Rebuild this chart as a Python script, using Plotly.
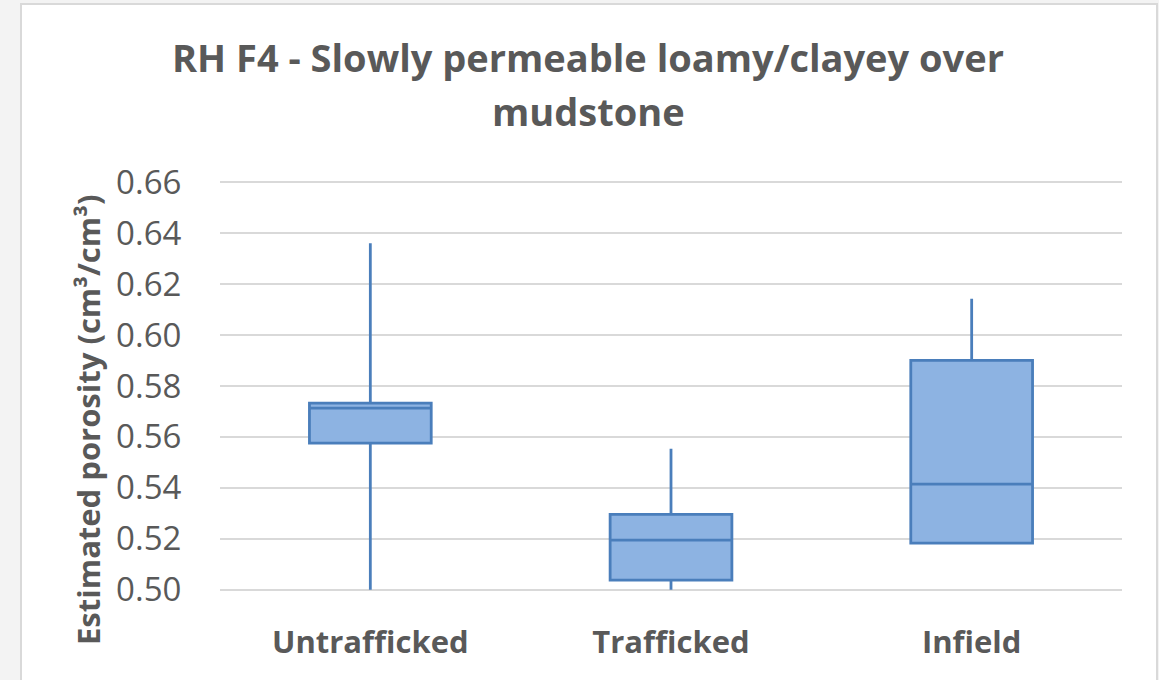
import plotly.graph_objects as go

# box statistics (cm3/cm3)
categories = ["Untrafficked", "Trafficked", "Infield"]
lower_fence = [0.500, 0.500, 0.5183]
q1_values = [0.5576, 0.5038, 0.5183]
median_values = [0.5713, 0.5195, 0.5415]
q3_values = [0.5733, 0.5296, 0.5901]
upper_fence = [0.6361, 0.5554, 0.6143]

y_tick_values = [0.50, 0.52, 0.54, 0.56, 0.58, 0.60, 0.62, 0.64, 0.66]

title_lines = ["RH F4 - Slowly permeable loamy/clayey over", "mudstone"]
y_title = "Estimated porosity (cm³/cm³)"

text_grey = "#595959"
font_name = "Open Sans"

# plot area in pixels, used to put the frame and texts in paper coords
plot_left, plot_right = 220, 1122
plot_top, plot_bottom = 181, 591


def px_x(px):
    return (px - plot_left) / (plot_right - plot_left)


def px_y(py):
    return (plot_bottom - py) / (plot_bottom - plot_top)


fig = go.Figure()
fig.add_trace(
    go.Box(
        x=categories,
        q1=q1_values,
        median=median_values,
        q3=q3_values,
        lowerfence=lower_fence,
        upperfence=upper_fence,
        boxpoints=False,
        whiskerwidth=0,
        width=0.405,
        fillcolor="#8DB3E2",
        line=dict(color="#4A7EBB", width=2.8),
        hoverinfo="skip",
        showlegend=False,
    )
)

# chart frame like the excel chart area
fig.add_shape(
    type="rect",
    xref="paper",
    yref="paper",
    x0=px_x(21),
    x1=px_x(1157),
    y0=px_y(700),
    y1=px_y(4),
    fillcolor="white",
    line=dict(color="#d9d9d9", width=2),
    layer="below",
)

for line_text, line_y in zip(title_lines, [57, 111]):
    fig.add_annotation(
        text=line_text,
        xref="paper",
        yref="paper",
        x=px_x(588),
        y=px_y(line_y),
        xanchor="center",
        yanchor="middle",
        showarrow=False,
        font=dict(family=font_name, size=38, color=text_grey, weight="bold"),
    )

fig.add_annotation(
    text=y_title,
    xref="paper",
    yref="paper",
    x=px_x(88),
    y=px_y(420),
    xanchor="center",
    yanchor="middle",
    textangle=-90,
    showarrow=False,
    font=dict(family=font_name, size=31, color=text_grey, weight="bold"),
)

fig.update_xaxes(
    range=[-0.5, 2.5],
    showgrid=False,
    showline=False,
    ticks="outside",
    ticklen=24,
    tickcolor="rgba(0,0,0,0)",
    tickfont=dict(family=font_name, size=31, color=text_grey, weight="bold"),
)
fig.update_yaxes(
    range=[0.4995, 0.6605],
    tickvals=y_tick_values,
    tickformat=".2f",
    showgrid=True,
    gridcolor="#d9d9d9",
    gridwidth=2,
    zeroline=False,
    showline=False,
    ticks="outside",
    ticklen=31,
    tickcolor="rgba(0,0,0,0)",
    tickfont=dict(family=font_name, size=33, color=text_grey),
)
fig.update_layout(
    width=1159,
    height=680,
    margin=dict(l=plot_left, r=1159 - plot_right, t=plot_top, b=680 - plot_bottom),
    paper_bgcolor="#f3f3f3",
    plot_bgcolor="rgba(0,0,0,0)",
)

fig.write_html(
    "out.html",
    config={"displayModeBar": False},
    post_script="document.body.style.margin = '0px';",
)
